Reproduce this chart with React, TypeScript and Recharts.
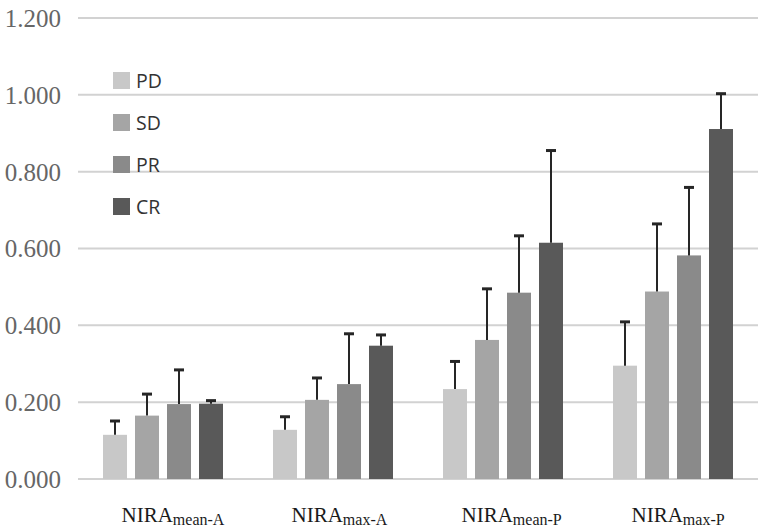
import { BarChart, Bar, XAxis, YAxis, CartesianGrid, Legend } from 'recharts';

const categories = ['mean-A', 'max-A', 'mean-P', 'max-P'];
const series = ['PD', 'SD', 'PR', 'CR'];
const colors = ['#c8c8c8', '#a5a5a5', '#8a8a8a', '#595959'];

const pd = [0.115, 0.128, 0.234, 0.295];
const pdErr = [0.036, 0.034, 0.072, 0.114];
const sd = [0.165, 0.206, 0.362, 0.488];
const sdErr = [0.056, 0.057, 0.133, 0.176];
const pr = [0.195, 0.247, 0.485, 0.582];
const prErr = [0.089, 0.131, 0.148, 0.177];
const cr = [0.196, 0.347, 0.615, 0.911];
const crErr = [0.008, 0.028, 0.24, 0.092];

const yTicks = [0, 0.2, 0.4, 0.6, 0.8, 1.0, 1.2];

const data = categories.map((name, i) => ({
  name,
  PD: pd[i], PD_err: pdErr[i],
  SD: sd[i], SD_err: sdErr[i],
  PR: pr[i], PR_err: prErr[i],
  CR: cr[i], CR_err: crErr[i],
}));

// bar with a one-sided (upper) error whisker, scaled from the bar's own height
function makeShape(key: string) {
  return (props: any) => {
    const { x, y, width, height, fill, payload } = props;
    const v = payload[key];
    const err = payload[key + '_err'];
    const pxPerUnit = v ? height / v : 0;
    const top = y - err * pxPerUnit;
    const cx = x + width / 2;
    return (
      <g>
        <rect x={x} y={y} width={width} height={height} fill={fill} />
        <line x1={cx} y1={y} x2={cx} y2={top} stroke="#262626" strokeWidth={2} />
        <line x1={cx - 5} y1={top} x2={cx + 5} y2={top} stroke="#262626" strokeWidth={3} />
      </g>
    );
  };
}

function XTick({ x, y, payload }: any) {
  return (
    <text x={x - 41.5} y={y + 35} textAnchor="start" fill="#1a1a1a" fontFamily="'Liberation Serif', serif">
      <tspan fontSize={21}>NIRA</tspan>
      <tspan fontSize={16} dy={3}>{payload.value}</tspan>
    </text>
  );
}

function LegendBox() {
  return (
    <div style={{ position: 'absolute', left: 113, top: 59 }}>
      {series.map((s, i) => (
        <div key={s} style={{ display: 'flex', alignItems: 'center', height: 42 }}>
          <div style={{ width: 17, height: 17, background: colors[i], marginRight: 6 }} />
          <span style={{ fontFamily: "'Open Sans', sans-serif", fontSize: 19.5, color: '#333' }}>{s}</span>
        </div>
      ))}
    </div>
  );
}

export default function App() {
  return (
    <div style={{ position: 'absolute', left: 0, top: 0, background: '#fff' }}>
      <BarChart
        width={758}
        height={528}
        data={data}
        margin={{ top: 18, right: 0, left: 0, bottom: 0 }}
        barGap={8}
      >
        <CartesianGrid vertical={false} stroke="#d2d2d2" strokeWidth={2} />
        <XAxis dataKey="name" height={49} axisLine={false} tickLine={false} tick={<XTick />} interval={0} />
        <YAxis
          width={78}
          domain={[0, 1.2]}
          ticks={yTicks}
          axisLine={false}
          tickLine={false}
          tickSize={0}
          tickMargin={17}
          tickFormatter={(v: number) => v.toFixed(3)}
          tick={{ fill: '#666', fontSize: 25, fontFamily: "'Liberation Serif', serif" }}
        />
        <Legend content={<LegendBox />} wrapperStyle={{ position: 'absolute', left: 0, top: 0 }} />
        {series.map((s, i) => (
          <Bar key={s} dataKey={s} fill={colors[i]} barSize={24} isAnimationActive={false} shape={makeShape(s)} />
        ))}
      </BarChart>
    </div>
  );
}
